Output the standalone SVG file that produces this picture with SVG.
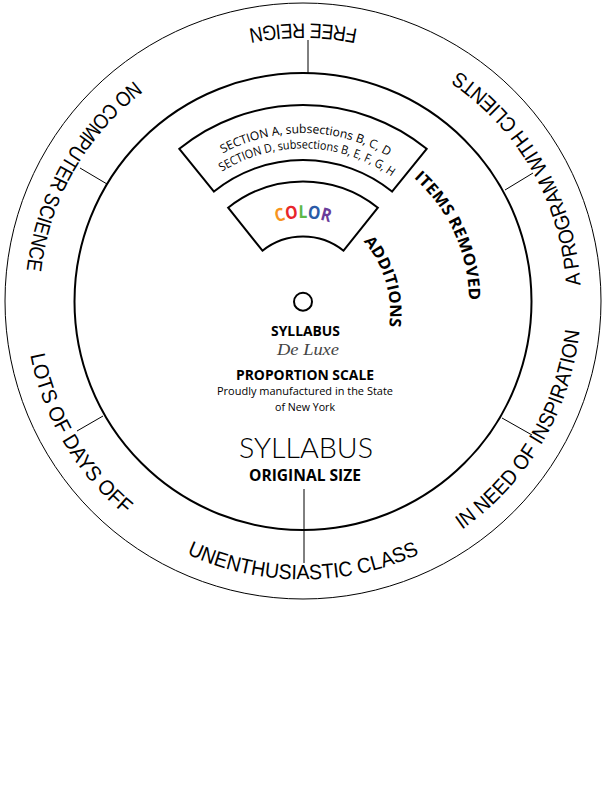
<svg xmlns="http://www.w3.org/2000/svg" width="612" height="792" viewBox="0 0 612 792">
<style>
.ring{fill:none;stroke:#000}
.tick{stroke:#000;stroke-width:1;fill:none}
.sector{fill:#fff;stroke:#000;stroke-width:2;stroke-linejoin:miter}
.lbl{font-family:"Liberation Sans",Arial,sans-serif;font-size:21px;fill:#000}
.hum{font-family:"Open Sans",Lato,sans-serif;fill:#000}
.thin{font-family:Lato,"Open Sans",sans-serif;fill:#000;font-weight:300}
.b{font-weight:bold}
</style>
<defs>
<path id="outerLbl" d="M 581,301.5 A 278 278 0 0 0 25,301.5 A 278 278 0 0 0 581,301.5"/>
<path id="sec1" d="M 183.9,182.4 A 168.5 168.5 0 0 1 422.1,182.4"/>
<path id="sec2" d="M 194.8,193.3 A 153 153 0 0 1 411.2,193.3"/>
<path id="colorArc" d="M 230.7,259.75 A 83.5 83.5 0 0 1 375.3,259.75"/>
<path id="itemsArc" d="M 303,135.5 A 166 166 0 0 1 469,301.5 A 166 166 0 0 1 303,467.5"/>
<path id="addArc" d="M 283,205 A 107 107 0 0 1 390,312 A 107 107 0 0 1 283,419"/>
</defs>
<rect width="612" height="792" fill="#fff"/>
<g id="outer-ring">
<circle class="ring" cx="303" cy="301" r="298" stroke-width="1"/>
</g>
<g id="inner-ring">
<circle class="ring" cx="303" cy="301.5" r="228.5" stroke-width="2"/>
</g>
<g id="connectors">
<line class="tick" x1="308" y1="73" x2="308" y2="40"/>
<line class="tick" x1="505" y1="190" x2="533" y2="173"/>
<line class="tick" x1="107" y1="184" x2="80" y2="168"/>
<line class="tick" x1="103" y1="416" x2="77" y2="431"/>
<line class="tick" x1="502" y1="418" x2="532" y2="435"/>
<line class="tick" x1="304" y1="489" x2="304" y2="563" stroke-width="1.3"/>
</g>
<g id="label-free-reign"><text class="lbl"><textPath href="#outerLbl" startOffset="25%" text-anchor="middle" textLength="110" lengthAdjust="spacingAndGlyphs">FREE REIGN</textPath></text></g>
<g id="label-program"><text class="lbl"><textPath href="#outerLbl" startOffset="8.25%" text-anchor="middle" textLength="255" lengthAdjust="spacingAndGlyphs">A PROGRAM WITH CLIENTS</textPath></text></g>
<g id="label-no-cs"><text class="lbl"><textPath href="#outerLbl" startOffset="41.8%" text-anchor="middle" textLength="224" lengthAdjust="spacingAndGlyphs">NO COMPUTER SCIENCE</textPath></text></g>
<g id="label-days-off"><text class="lbl"><textPath href="#outerLbl" startOffset="58.5%" text-anchor="middle" textLength="189" lengthAdjust="spacingAndGlyphs">LOTS OF DAYS OFF</textPath></text></g>
<g id="label-class"><text class="lbl"><textPath href="#outerLbl" startOffset="75%" text-anchor="middle" textLength="240" lengthAdjust="spacingAndGlyphs">UNENTHUSIASTIC CLASS</textPath></text></g>
<g id="label-inspiration"><text class="lbl"><textPath href="#outerLbl" startOffset="91.5%" text-anchor="middle" textLength="238" lengthAdjust="spacingAndGlyphs">IN NEED OF INSPIRATION</textPath></text></g>
<g id="items-removed-window">
<path class="sector" d="M 179.34,148.8 A 196.5 196.5 0 0 1 426.66,148.8 L 392.05,191.54 A 141.5 141.5 0 0 0 213.95,191.54 Z"/>
<text class="hum" font-size="12"><textPath href="#sec1" startOffset="51.1%" text-anchor="middle" textLength="173" lengthAdjust="spacingAndGlyphs">SECTION A, subsections B, C, D</textPath></text>
<text class="hum" font-size="12"><textPath href="#sec2" startOffset="51.9%" text-anchor="middle" textLength="180" lengthAdjust="spacingAndGlyphs">SECTION D, subsections B, E, F, G, H</textPath></text>
</g>
<g id="additions-window">
<path class="sector" d="M 228.13,207.72 A 120 120 0 0 1 377.87,207.72 L 343.55,250.7 A 65 65 0 0 0 262.45,250.7 Z"/>
<text class="hum b" font-size="18"><textPath href="#colorArc" startOffset="50%" text-anchor="middle" textLength="54" lengthAdjust="spacingAndGlyphs"><tspan fill="#F7941E">C</tspan><tspan fill="#E8262B">O</tspan><tspan fill="#5DB847">L</tspan><tspan fill="#2B5BA8">O</tspan><tspan fill="#6A3D9A">R</tspan></textPath></text>
</g>
<g id="items-removed-label"><text class="hum b" font-size="16"><textPath href="#itemsArc" startOffset="36.5%" text-anchor="middle" textLength="138" lengthAdjust="spacingAndGlyphs">ITEMS REMOVED</textPath></text></g>
<g id="additions-label"><text class="hum b" font-size="16"><textPath href="#addArc" startOffset="40.7%" text-anchor="middle" textLength="92" lengthAdjust="spacingAndGlyphs">ADDITIONS</textPath></text></g>
<g id="pivot"><circle cx="303" cy="301.7" r="9" fill="#fff" stroke="#000" stroke-width="2"/></g>
<g id="center-text" text-anchor="middle">
<text class="hum b" x="305.5" y="336" font-size="15" textLength="69" lengthAdjust="spacingAndGlyphs">SYLLABUS</text>
<text x="308" y="355" font-family="'Liberation Serif',serif" font-style="italic" font-size="16" fill="#444" textLength="62" lengthAdjust="spacingAndGlyphs">De Luxe</text>
<text class="hum b" x="305" y="380" font-size="15" textLength="138" lengthAdjust="spacingAndGlyphs">PROPORTION SCALE</text>
<text class="hum" x="305" y="394.5" font-size="11" textLength="176" lengthAdjust="spacingAndGlyphs">Proudly manufactured in the State</text>
<text class="hum" x="305" y="410.7" font-size="11" textLength="60" lengthAdjust="spacingAndGlyphs">of New York</text>
<text class="thin" x="306" y="458.3" font-size="26.5" textLength="134" lengthAdjust="spacingAndGlyphs">SYLLABUS</text>
<text class="hum b" x="305" y="480.5" font-size="16" textLength="112" lengthAdjust="spacingAndGlyphs">ORIGINAL SIZE</text>
</g>
</svg>
